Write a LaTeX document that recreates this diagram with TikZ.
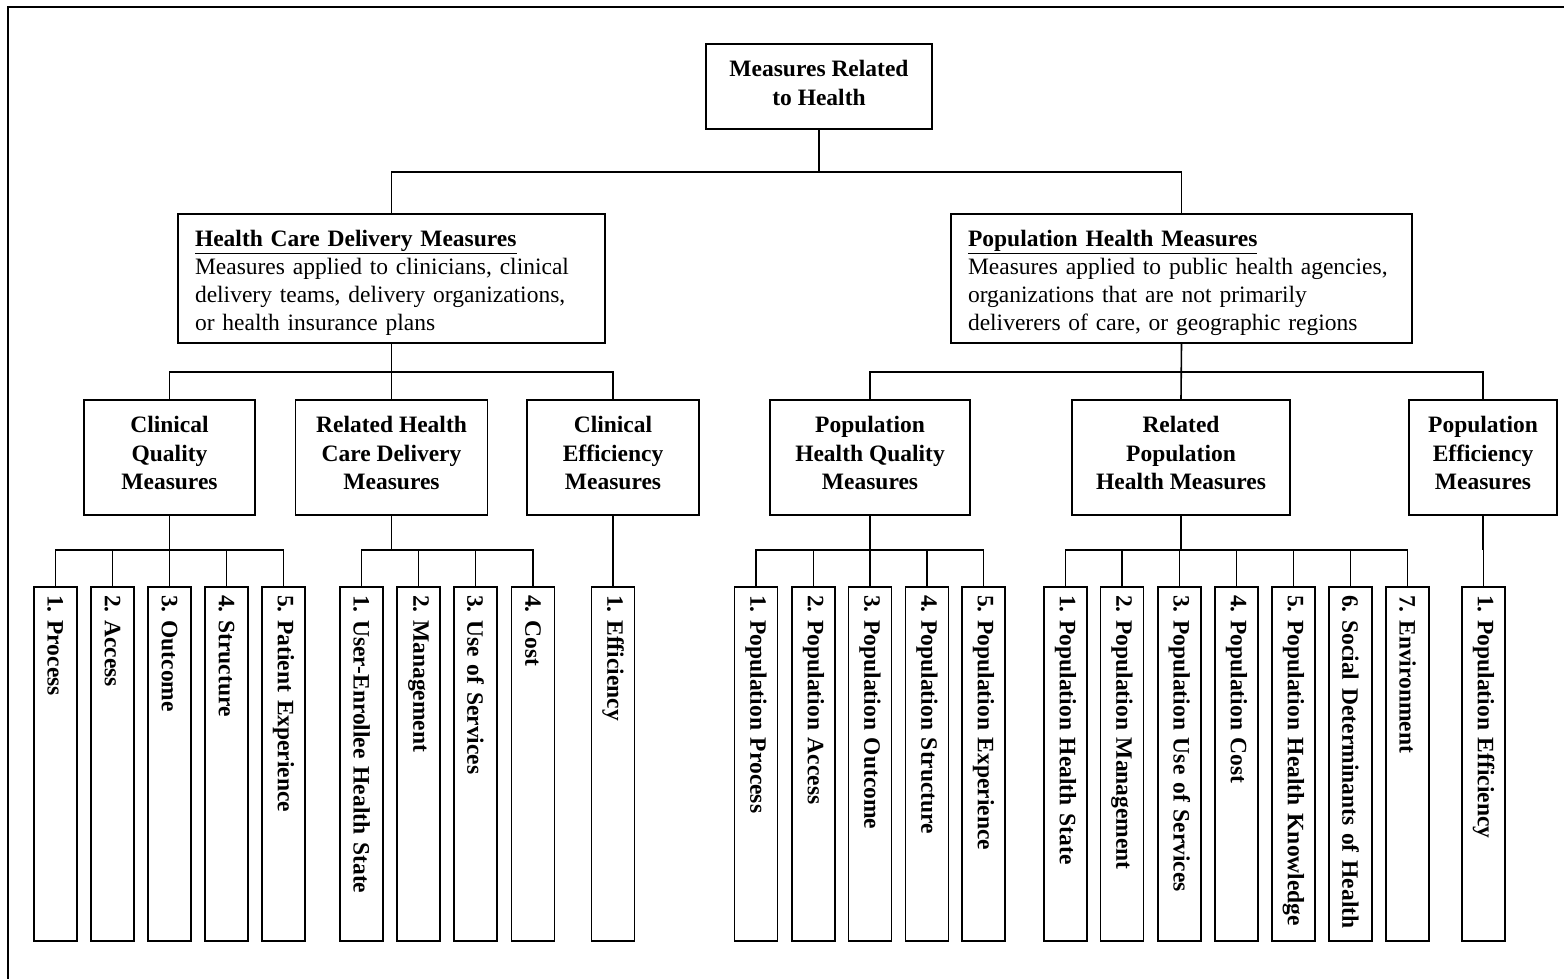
\documentclass[tikz,border=0pt]{standalone}
\usepackage{fontspec}
\setmainfont{Liberation Serif}
\frenchspacing
\begin{document}
\begin{tikzpicture}[x=1pt,y=-1pt,
  boxline/.style={draw=black, line width=1.5pt},
  conn/.style={draw=black, line width=1.6pt},
  plainbox/.style={boxline, inner sep=0pt},
  rootbox/.style={plainbox, minimum width=226pt, minimum height=85pt},
  roottext/.style={inner sep=0pt, align=center, font=\fontsize{23.5}{29}\selectfont\bfseries},
  topbox/.style={plainbox, minimum height=129pt},
  toptext/.style={inner sep=0pt, align=left, font=\fontsize{23.5}{28}\selectfont},
  midbox/.style={plainbox, minimum height=115pt},
  midtext/.style={inner sep=0pt, align=center, font=\fontsize{23.5}{28.5}\selectfont\bfseries},
  leafbox/.style={boxline, rotate=-90, minimum width=354pt, minimum height=43pt, text width=338pt,
    inner xsep=8pt, inner ysep=0pt, align=left, font=\fontsize{23.5}{28}\selectfont\bfseries}
]
\useasboundingbox (0,0) rectangle (1564,979);
% outer frame
\draw[line width=2pt] (8,979) -- (8,7) -- (1564,7);

% root
\node[rootbox] (root) at (819,86.5) {};
\node[roottext] (roott) at ([yshift=4pt]root.center) {Measures Related\\to Health};

% level 1
\node[topbox, minimum width=427pt] (l1a) at (391.5,278.5) {};
\node[toptext, text width=393pt] (l1at) at ([yshift=-4.5pt]l1a.center)
  {{\bfseries\underline{Health Care Delivery Measures}}\\Measures applied to clinicians, clinical\\delivery teams, delivery organizations,\\or health insurance plans};
\node[topbox, minimum width=461pt] (l1b) at (1181.5,278.5) {};
\node[toptext, text width=427pt] (l1bt) at ([yshift=-4.5pt]l1b.center)
  {{\bfseries\underline{Population Health Measures}}\\Measures applied to public health agencies,\\organizations that are not primarily\\deliverers of care, or geographic regions};

% level 2
\node[midbox, minimum width=171pt] (cq) at (169.5,457.5) {};
\node[midbox, minimum width=192pt] (rh) at (391.5,457.5) {};
\node[midbox, minimum width=172pt] (ce) at (613,457.5) {};
\node[midbox, minimum width=200pt] (pq) at (870,457.5) {};
\node[midbox, minimum width=218pt] (rp) at (1181,457.5) {};
\node[midbox, minimum width=148pt] (pe) at (1483,457.5) {};
\node[midtext] (cqt) at ([yshift=4.5pt]cq.center) {Clinical\\Quality\\Measures};
\node[midtext] (rht) at ([yshift=4.5pt]rh.center) {Related Health\\Care Delivery\\Measures};
\node[midtext] (cet) at ([yshift=4.5pt]ce.center) {Clinical\\Efficiency\\Measures};
\node[midtext] (pqt) at ([yshift=4.5pt]pq.center) {Population\\Health Quality\\Measures};
\node[midtext] (rpt) at ([yshift=4.5pt]rp.center) {Related\\Population\\Health Measures};
\node[midtext] (pet) at ([yshift=4.5pt]pe.center) {Population\\Efficiency\\Measures};

% leaves
\node[leafbox] (cq1) at (55.3,764) {1. Process};
\node[leafbox] (cq2) at (112.5,764) {2. Access};
\node[leafbox] (cq3) at (169.5,764) {3. Outcome};
\node[leafbox] (cq4) at (226.5,764) {4. Structure};
\node[leafbox] (cq5) at (283.5,764) {5. Patient Experience};

\node[leafbox] (rh1) at (361.5,764) {1. User-Enrollee Health State};
\node[leafbox] (rh2) at (418.5,764) {2. Management};
\node[leafbox] (rh3) at (475.5,764) {3. Use of Services};
\node[leafbox] (rh4) at (533,764) {4. Cost};

\node[leafbox] (ce1) at (613,764) {1. Efficiency};

\node[leafbox] (pq1) at (756,764) {1. Population Process};
\node[leafbox] (pq2) at (813.5,764) {2. Population Access};
\node[leafbox] (pq3) at (870,764) {3. Population Outcome};
\node[leafbox] (pq4) at (927,764) {4. Population Structure};
\node[leafbox] (pq5) at (983.5,764) {5. Population Experience};

\node[leafbox] (rp1) at (1065.5,764) {1. Population Health State};
\node[leafbox] (rp2) at (1122,764) {2. Population Management};
\node[leafbox] (rp3) at (1179.5,764) {3. Population Use of Services};
\node[leafbox] (rp4) at (1236.5,764) {4. Population Cost};
\node[leafbox] (rp5) at (1293.5,764) {5. Population Health Knowledge};
\node[leafbox] (rp6) at (1350.5,764) {6. Social Determinants of Health};
\node[leafbox] (rp7) at (1407.5,764) {7. Environment};

\node[leafbox] (pe1) at (1483.5,764) {1. Population Efficiency};

% connectors root -> level 1
\coordinate (b0) at (819,172);
\draw[conn] (root.south) -- (b0);
\draw[conn] (l1a.north) |- (b0) -| (l1b.north);

% level 1 -> level 2
\coordinate (ba) at (391.5,372);
\coordinate (bb) at (1181.5,372);
\draw[conn] (l1a.south) -- (rh.north);
\draw[conn] (cq.north) |- (ba) -| (ce.north);
\draw[conn] (l1b.south) -- (rp.north);
\draw[conn] (pq.north) |- (bb) -| (pe.north);

% level 2 -> leaves
\foreach \p/\list in {cq/{cq1,cq2,cq3,cq4,cq5}, rh/{rh1,rh2,rh3,rh4}, ce/{ce1},
                      pq/{pq1,pq2,pq3,pq4,pq5}, rp/{rp1,rp2,rp3,rp4,rp5,rp6,rp7}, pe/{pe1}} {
  \coordinate (\p bus) at (\p.south |- 0,550);
  \draw[conn] (\p.south) -- (\p bus);
  \foreach \c in \list {
    \draw[conn] (\p bus) -| (\c.west);
  }
}
\end{tikzpicture}
\end{document}
